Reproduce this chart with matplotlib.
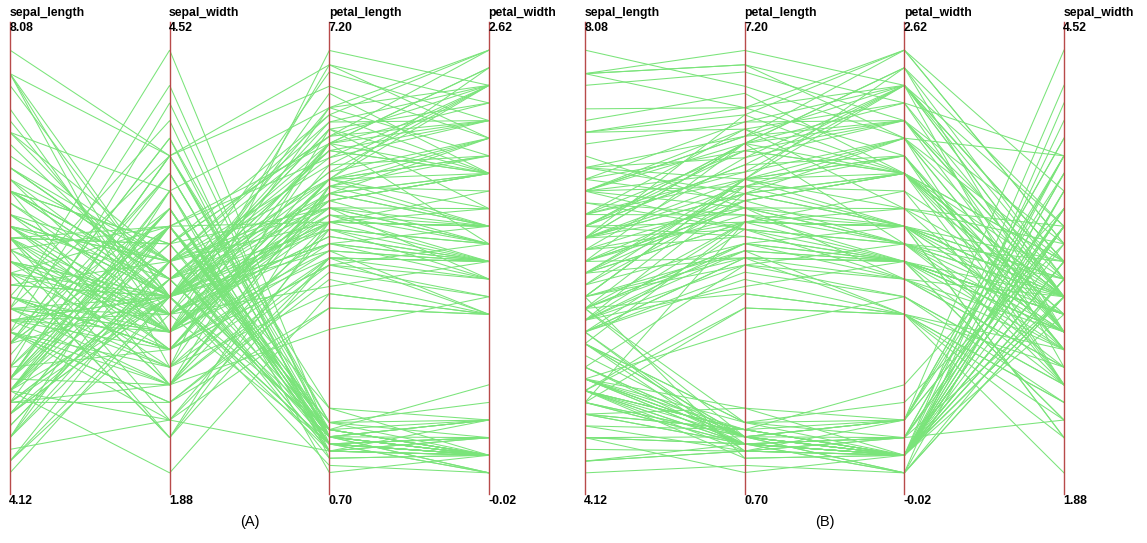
import matplotlib
matplotlib.use("Agg")
import matplotlib.pyplot as plt

# iris data, 150 rows
sepal_length = [
    5.1, 4.9, 4.7, 4.6, 5.0, 5.4, 4.6, 5.0, 4.4, 4.9, 5.4, 4.8, 4.8, 4.3, 5.8, 5.7, 5.4, 5.1, 5.7, 5.1,
    5.4, 5.1, 4.6, 5.1, 4.8, 5.0, 5.0, 5.2, 5.2, 4.7, 4.8, 5.4, 5.2, 5.5, 4.9, 5.0, 5.5, 4.9, 4.4, 5.1,
    5.0, 4.5, 4.4, 5.0, 5.1, 4.8, 5.1, 4.6, 5.3, 5.0,
    7.0, 6.4, 6.9, 5.5, 6.5, 5.7, 6.3, 4.9, 6.6, 5.2, 5.0, 5.9, 6.0, 6.1, 5.6, 6.7, 5.6, 5.8, 6.2, 5.6,
    5.9, 6.1, 6.3, 6.1, 6.4, 6.6, 6.8, 6.7, 6.0, 5.7, 5.5, 5.5, 5.8, 6.0, 5.4, 6.0, 6.7, 6.3, 5.6, 5.5,
    5.5, 6.1, 5.8, 5.0, 5.6, 5.7, 5.7, 6.2, 5.1, 5.7,
    6.3, 5.8, 7.1, 6.3, 6.5, 7.6, 4.9, 7.3, 6.7, 7.2, 6.5, 6.4, 6.8, 5.7, 5.8, 6.4, 6.5, 7.7, 7.7, 6.0,
    6.9, 5.6, 7.7, 6.3, 6.7, 7.2, 6.2, 6.1, 6.4, 7.2, 7.4, 7.9, 6.4, 6.3, 6.1, 7.7, 6.3, 6.4, 6.0, 6.9,
    6.7, 6.9, 5.8, 6.8, 6.7, 6.7, 6.3, 6.5, 6.2, 5.9,
]
sepal_width = [
    3.5, 3.0, 3.2, 3.1, 3.6, 3.9, 3.4, 3.4, 2.9, 3.1, 3.7, 3.4, 3.0, 3.0, 4.0, 4.4, 3.9, 3.5, 3.8, 3.8,
    3.4, 3.7, 3.6, 3.3, 3.4, 3.0, 3.4, 3.5, 3.4, 3.2, 3.1, 3.4, 4.1, 4.2, 3.1, 3.2, 3.5, 3.6, 3.0, 3.4,
    3.5, 2.3, 3.2, 3.5, 3.8, 3.0, 3.8, 3.2, 3.7, 3.3,
    3.2, 3.2, 3.1, 2.3, 2.8, 2.8, 3.3, 2.4, 2.9, 2.7, 2.0, 3.0, 2.2, 2.9, 2.9, 3.1, 3.0, 2.7, 2.2, 2.5,
    3.2, 2.8, 2.5, 2.8, 2.9, 3.0, 2.8, 3.0, 2.9, 2.6, 2.4, 2.4, 2.7, 2.7, 3.0, 3.4, 3.1, 2.3, 3.0, 2.5,
    2.6, 3.0, 2.6, 2.3, 2.7, 3.0, 2.9, 2.9, 2.5, 2.8,
    3.3, 2.7, 3.0, 2.9, 3.0, 3.0, 2.5, 2.9, 2.5, 3.6, 3.2, 2.7, 3.0, 2.5, 2.8, 3.2, 3.0, 3.8, 2.6, 2.2,
    3.2, 2.8, 2.8, 2.7, 3.3, 3.2, 2.8, 3.0, 2.8, 3.0, 2.8, 3.8, 2.8, 2.8, 2.6, 3.0, 3.4, 3.1, 3.0, 3.1,
    3.1, 3.1, 2.7, 3.2, 3.3, 3.0, 2.5, 3.0, 3.4, 3.0,
]
petal_length = [
    1.4, 1.4, 1.3, 1.5, 1.4, 1.7, 1.4, 1.5, 1.4, 1.5, 1.5, 1.6, 1.4, 1.1, 1.2, 1.5, 1.3, 1.4, 1.7, 1.5,
    1.7, 1.5, 1.0, 1.7, 1.9, 1.6, 1.6, 1.5, 1.4, 1.6, 1.6, 1.5, 1.5, 1.4, 1.5, 1.2, 1.3, 1.4, 1.3, 1.5,
    1.3, 1.3, 1.3, 1.6, 1.9, 1.4, 1.6, 1.4, 1.5, 1.4,
    4.7, 4.5, 4.9, 4.0, 4.6, 4.5, 4.7, 3.3, 4.6, 3.9, 3.5, 4.2, 4.0, 4.7, 3.6, 4.4, 4.5, 4.1, 4.5, 3.9,
    4.8, 4.0, 4.9, 4.7, 4.3, 4.4, 4.8, 5.0, 4.5, 3.5, 3.8, 3.7, 3.9, 5.1, 4.5, 4.5, 4.7, 4.4, 4.1, 4.0,
    4.4, 4.6, 4.0, 3.3, 4.2, 4.2, 4.2, 4.3, 3.0, 4.1,
    6.0, 5.1, 5.9, 5.6, 5.8, 6.6, 4.5, 6.3, 5.8, 6.1, 5.1, 5.3, 5.5, 5.0, 5.1, 5.3, 5.5, 6.7, 6.9, 5.0,
    5.7, 4.9, 6.7, 4.9, 5.7, 6.0, 4.8, 4.9, 5.6, 5.8, 6.1, 6.4, 5.6, 5.1, 5.6, 6.1, 5.6, 5.5, 4.8, 5.4,
    5.6, 5.1, 5.1, 5.9, 5.7, 5.2, 5.0, 5.2, 5.4, 5.1,
]
petal_width = [
    0.2, 0.2, 0.2, 0.2, 0.2, 0.4, 0.3, 0.2, 0.2, 0.1, 0.2, 0.2, 0.1, 0.1, 0.2, 0.4, 0.4, 0.3, 0.3, 0.3,
    0.2, 0.4, 0.2, 0.5, 0.2, 0.2, 0.4, 0.2, 0.2, 0.2, 0.2, 0.4, 0.1, 0.2, 0.2, 0.2, 0.2, 0.1, 0.2, 0.2,
    0.3, 0.3, 0.2, 0.6, 0.4, 0.3, 0.2, 0.2, 0.2, 0.2,
    1.4, 1.5, 1.5, 1.3, 1.5, 1.3, 1.6, 1.0, 1.3, 1.4, 1.0, 1.5, 1.0, 1.4, 1.3, 1.4, 1.5, 1.0, 1.5, 1.1,
    1.8, 1.3, 1.5, 1.2, 1.3, 1.4, 1.4, 1.7, 1.5, 1.0, 1.1, 1.0, 1.2, 1.6, 1.5, 1.6, 1.5, 1.3, 1.3, 1.3,
    1.2, 1.4, 1.2, 1.0, 1.3, 1.2, 1.3, 1.3, 1.1, 1.3,
    2.5, 1.9, 2.1, 1.8, 2.2, 2.1, 1.7, 1.8, 1.8, 2.5, 2.0, 1.9, 2.1, 2.0, 2.4, 2.3, 1.8, 2.2, 2.3, 1.5,
    2.3, 2.0, 2.0, 1.8, 2.1, 1.8, 1.8, 1.8, 2.1, 1.6, 1.9, 2.0, 2.2, 1.5, 1.4, 2.3, 2.4, 1.8, 1.8, 2.1,
    2.4, 2.3, 1.9, 2.3, 2.5, 2.3, 1.9, 2.0, 2.3, 1.8,
]

columns = {
    "sepal_length": sepal_length,
    "sepal_width": sepal_width,
    "petal_length": petal_length,
    "petal_width": petal_width,
}
# axis ranges as printed on the chart
axis_lo = {"sepal_length": "4.12", "sepal_width": "1.88", "petal_length": "0.70", "petal_width": "-0.02"}
axis_hi = {"sepal_length": "8.08", "sepal_width": "4.52", "petal_length": "7.20", "petal_width": "2.62"}

order_a = ["sepal_length", "sepal_width", "petal_length", "petal_width"]
order_b = ["sepal_length", "petal_length", "petal_width", "sepal_width"]

W, H = 1147, 543
LINE_COLOR = "#7ae47a"
AXIS_COLOR = "#b84a4a"
FONT = "Liberation Sans"
LABEL_SIZE = 8.8


def parallel(fig, left_px, order, caption):
    # data area: x from left_px to left_px+479, y from 29 to 494 (pixels from top)
    ax = fig.add_axes([left_px / W, (H - 494) / H, 479 / W, 465 / H])
    ax.set_xlim(0, len(order) - 1)
    ax.set_ylim(0, 1)
    ax.axis("off")

    norm = []
    for name in order:
        lo, hi = float(axis_lo[name]), float(axis_hi[name])
        norm.append([(v - lo) / (hi - lo) for v in columns[name]])
    xs = list(range(len(order)))
    for i in range(len(norm[0])):
        ax.plot(xs, [col[i] for col in norm], color=LINE_COLOR, lw=0.75,
                solid_joinstyle="miter", zorder=1)

    top = 1 + 7 / 465
    for x, name in zip(xs, order):
        ax.plot([x, x], [0, top], color=AXIS_COLOR, lw=1.0, zorder=2, clip_on=False)
        ax.text(x - 0.004, 1 + 13 / 465, name, ha="left", va="baseline",
                fontsize=LABEL_SIZE, fontweight="bold", family=FONT)
        ax.text(x - 0.004, 1 + 7 / 465, axis_hi[name], ha="left", va="top",
                fontsize=LABEL_SIZE, fontweight="bold", family=FONT, zorder=3)
        ax.text(x - 0.004, -1 / 465, axis_lo[name], ha="left", va="top",
                fontsize=LABEL_SIZE, fontweight="bold", family=FONT)

    ax.text(0.5, -28 / 465, caption, transform=ax.transAxes, ha="center", va="center",
            fontsize=10.5, family=FONT)


fig = plt.figure(figsize=(W / 100, H / 100), dpi=100)
fig.patch.set_facecolor("white")
parallel(fig, 10, order_a, "(A)")
parallel(fig, 585, order_b, "(B)")
fig.savefig("out.png", dpi=100, facecolor="white")
